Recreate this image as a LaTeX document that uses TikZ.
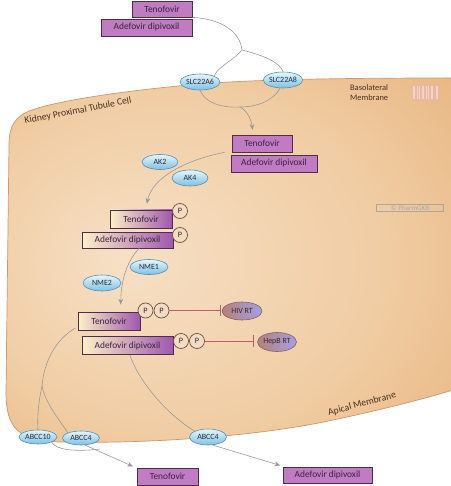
\documentclass[tikz,border=0pt]{standalone}
\usepackage{fontspec}
\setmainfont{Carlito}
\usepackage{xcolor}
\usetikzlibrary{shapes.geometric,arrows.meta}
\definecolor{cellin}{HTML}{F6E0C6}
\definecolor{cellmid}{HTML}{F0CCA2}
\definecolor{cellout}{HTML}{E6AE77}
\definecolor{cellline}{HTML}{D4956A}
\definecolor{drugpurple}{HTML}{C07BC2}
\definecolor{boxline}{HTML}{4A2E4A}
\definecolor{drugtext}{HTML}{3A2440}
\definecolor{fadeleft}{HTML}{FCF1C6}
\definecolor{fademid}{HTML}{EBD2D2}
\definecolor{faderight}{HTML}{A058AE}
\definecolor{elltop}{HTML}{E6F6FC}
\definecolor{ellbottom}{HTML}{7FC0E2}
\definecolor{ellline}{HTML}{4F8FB5}
\definecolor{elltext}{HTML}{1E2E40}
\definecolor{phosfill}{HTML}{F2DDC2}
\definecolor{phosline}{HTML}{6E5440}
\definecolor{tgtleft}{HTML}{B58278}
\definecolor{tgtright}{HTML}{A4A0E0}
\definecolor{tgtline}{HTML}{806070}
\definecolor{linkgray}{HTML}{999999}
\definecolor{inhred}{HTML}{C65A6C}
\definecolor{notebrown}{HTML}{4A3020}
\definecolor{lipidpink}{HTML}{E6B0D2}
\definecolor{markgray}{HTML}{A8A8A8}
\pgfdeclareradialshading{cellglow}{\pgfpoint{-12bp}{0bp}}{color(0bp)=(cellin); color(24bp)=(cellmid); color(44bp)=(cellout); color(50bp)=(cellout)}

\begin{document}
\begin{tikzpicture}[x=0.03cm,y=-0.03cm,font=\fontsize{8}{9}\selectfont,
  drugbox/.style={draw=boxline,line width=0.6pt,fill=drugpurple,inner sep=0pt,text=drugtext},
  fadebox/.style={drugbox,left color=fadeleft,middle color=fademid,right color=faderight},
  transporter/.style={ellipse,draw=ellline,line width=0.5pt,top color=elltop,bottom color=ellbottom,inner sep=0pt,text=elltext,font=\fontsize{6.8}{7}\selectfont},
  phos/.style={circle,draw=phosline,line width=0.6pt,fill=phosfill,inner sep=0pt,minimum size=0.45cm,text=drugtext,font=\fontsize{7}{7}\selectfont},
  target/.style={ellipse,draw=tgtline,line width=0.5pt,left color=tgtleft,right color=tgtright,inner sep=0pt,text=drugtext,font=\fontsize{6.8}{7}\selectfont},
  link/.style={draw=linkgray,line width=0.5pt},
  flow/.style={link,-{Stealth[length=5pt,width=4pt]}},
  inhib/.style={draw=inhred,line width=0.6pt,-{Bar[width=10pt]}},
  cellnote/.style={text=notebrown,font=\fontsize{8.3}{9.5}\selectfont}]
\useasboundingbox (0,0) rectangle (450,486);

\shadedraw[shading=cellglow,draw=cellline,line width=0.6pt]
  (453,78) .. controls (360,78) and (260,79) .. (200,84)
  .. controls (130,90) and (60,100) .. (32,110)
  .. controls (15,116) and (9,126) .. (9,145) -- (6,392)
  .. controls (6,428) and (18,441) .. (60,442)
  .. controls (150,444) and (260,436) .. (333,420)
  .. controls (380,410) and (420,400) .. (453,390) -- cycle;

\foreach \i in {0,...,5} {
  \draw[lipidpink!60,line width=0.2pt] (412.8+\i*4.6,86) -- (412.8+\i*4.6,99);
  \draw[lipidpink!60,line width=0.2pt] (414.2+\i*4.6,86) -- (414.2+\i*4.6,99);
  \fill[lipidpink] (413.5+\i*4.6,85) circle[radius=0.9pt];
  \fill[lipidpink] (413.5+\i*4.6,101) circle[radius=0.9pt];
}

\node[cellnote,rotate=11] (celllabel) at (78,111) {Kidney Proximal Tubule Cell};
\node[cellnote,font=\fontsize{7.2}{8.2}\selectfont,align=left,anchor=north west] (baso) at (346,81) {Basolateral\\Membrane};
\node[cellnote,rotate=15] (apical) at (362,404) {Apical Membrane};
\node[draw=markgray,text=markgray,font=\fontsize{6}{6}\selectfont,inner sep=1pt,minimum width=2.0cm] (mark) at (410,208) {© PharmGKB};

\node[drugbox,minimum width=1.8cm,minimum height=0.48cm] (tenoIn) at (162,9) {Tenofovir};
\node[drugbox,minimum width=2.73cm,minimum height=0.51cm] (adefIn) at (146.5,27.5) {Adefovir dipivoxil};
\node[drugbox,minimum width=1.8cm,minimum height=0.51cm] (tenoMid) at (262,143.5) {Tenofovir};
\node[drugbox,minimum width=2.58cm,minimum height=0.51cm] (adefMid) at (274,163.5) {Adefovir dipivoxil};
\node[fadebox,minimum width=1.86cm,minimum height=0.54cm] (tenoP) at (141,219) {Tenofovir};
\node[fadebox,minimum width=2.73cm,minimum height=0.48cm] (adefP) at (127.5,240) {Adefovir dipivoxil};
\node[fadebox,minimum width=1.86cm,minimum height=0.54cm] (tenoPP) at (109,321) {Tenofovir};
\node[fadebox,minimum width=2.73cm,minimum height=0.54cm] (adefPP) at (127.5,345.5) {Adefovir dipivoxil};
\node[drugbox,minimum width=1.83cm,minimum height=0.51cm] (tenoOut) at (167.5,476.5) {Tenofovir};
\node[drugbox,minimum width=2.67cm,minimum height=0.48cm] (adefOut) at (327.5,475) {Adefovir dipivoxil};

\node[phos] (p1) at (180,211) {P};
\node[phos] (p2) at (180,235) {P};
\node[phos] (p3) at (145.5,310.5) {P};
\node[phos] (p4) at (161.5,310.5) {P};
\node[phos] (p5) at (181,341) {P};
\node[phos] (p6) at (197,341) {P};

\node[transporter,minimum width=1.2cm,minimum height=0.48cm] (slc6) at (200,82) {SLC22A6};
\node[transporter,minimum width=1.14cm,minimum height=0.48cm] (slc8) at (283,80) {SLC22A8};
\node[transporter,minimum width=1.08cm,minimum height=0.45cm] (ak2) at (160,162) {AK2};
\node[transporter,minimum width=1.08cm,minimum height=0.48cm] (ak4) at (190,178) {AK4};
\node[transporter,minimum width=1.14cm,minimum height=0.45cm] (nme1) at (149,267) {NME1};
\node[transporter,minimum width=1.14cm,minimum height=0.48cm] (nme2) at (102,283) {NME2};
\node[transporter,minimum width=1.14cm,minimum height=0.42cm] (abcc10) at (38,437) {ABCC10};
\node[transporter,minimum width=1.11cm,minimum height=0.42cm] (abcc4a) at (81,438) {ABCC4};
\node[transporter,minimum width=1.11cm,minimum height=0.48cm] (abcc4b) at (208,437) {ABCC4};
\node[target,minimum width=1.2cm,minimum height=0.54cm] (hiv) at (242,311) {HIV RT};
\node[target,minimum width=1.17cm,minimum height=0.57cm] (hepb) at (277,342) {HepB RT};

\coordinate (split) at (242,50);
\draw[link] (tenoIn.south east) .. controls (222,19) and (240,32) .. (split);
\draw[link] (split) .. controls (234,60) and (216,68) .. (slc6.north east);
\draw[link] (split) .. controls (262,55) and (280,62) .. (slc8.north);

\coordinate (merge) at (240,107);
\draw[link] (slc6.south) .. controls (205,103) and (222,108) .. (merge);
\draw[link] (slc8.250) .. controls (274,100) and (258,107) .. (merge);
\draw[flow] (merge) .. controls (246,110) and (251,118) .. ([xshift=-8pt,yshift=4pt]tenoMid.north);

\draw[flow] ([xshift=-6pt]tenoMid.south west) .. controls (185,160) and (152,178) .. ([xshift=5pt,yshift=5pt]tenoP.north);
\draw[flow] ([xshift=10pt]adefP.south) .. controls (126,262) and (121,282) .. ([xshift=10pt,yshift=6pt]tenoPP.north);

\coordinate (hivstop) at (221,310.5);
\draw[inhib] (p4.east) -- (hivstop);
\coordinate (hepbstop) at (254,341);
\draw[inhib] (p6.east) -- (hepbstop);

\coordinate (fork) at (42,386);
\draw[link] ([xshift=-2pt,yshift=2pt]tenoPP.south west) .. controls (55,340) and (44,362) .. (fork);
\draw[link] (fork) .. controls (39,400) and (37,415) .. (abcc10.north);
\draw[link] (fork) .. controls (46,405) and (60,420) .. (abcc4a.north west);
\draw[link] ([xshift=2pt]adefPP.south) .. controls (140,385) and (172,418) .. (abcc4b.north west);

\coordinate (join) at (100,449);
\draw[link] (abcc10.south east) .. controls (56,450) and (75,452) .. (join);
\draw[flow] (abcc4a.-60) -- ([xshift=-3pt,yshift=1pt]tenoOut.north west);
\draw[flow] (abcc4b.-60) -- ([xshift=-2pt,yshift=1pt]adefOut.north west);
\end{tikzpicture}
\end{document}
